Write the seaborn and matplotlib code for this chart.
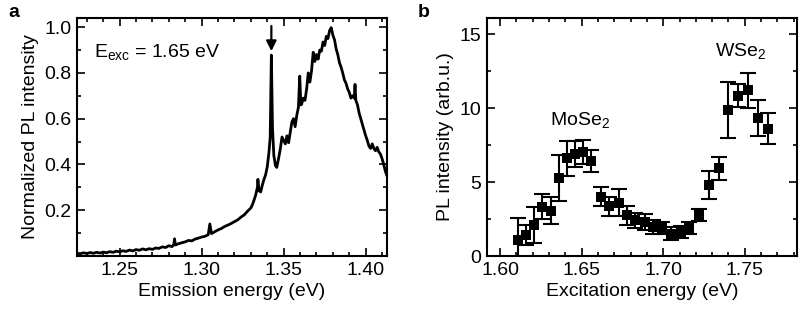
import numpy as np
import pandas as pd
import matplotlib
matplotlib.use("Agg")
import matplotlib.pyplot as plt
import seaborn as sns
from matplotlib.ticker import MultipleLocator

# ------------------------------------------------------------
# Panel a: PL spectrum at E_exc = 1.65 eV
# ------------------------------------------------------------
emission_energy = [
    1.2240, 1.2260, 1.2280, 1.2300, 1.2320, 1.2340, 1.2360, 1.2380, 1.2400, 1.2420,
    1.2440, 1.2460, 1.2480, 1.2500, 1.2520, 1.2540, 1.2560, 1.2580, 1.2600, 1.2620,
    1.2640, 1.2660, 1.2680, 1.2700, 1.2720, 1.2740, 1.2760, 1.2780, 1.2800, 1.2820,
    1.2830, 1.2835, 1.2840, 1.2860, 1.2880, 1.2900, 1.2920, 1.2940, 1.2960, 1.2980,
    1.3000, 1.3020, 1.3040, 1.3050, 1.3060, 1.3080, 1.3100, 1.3120, 1.3140, 1.3160,
    1.3180, 1.3200, 1.3220, 1.3240, 1.3260, 1.3280, 1.3300, 1.3310, 1.3320, 1.3330,
    1.3340, 1.3343, 1.3350, 1.3360, 1.3370, 1.3380, 1.3390, 1.3400, 1.3410, 1.3418,
    1.3425, 1.3432, 1.3440, 1.3450, 1.3458,
    1.3470, 1.3480, 1.3490, 1.3500, 1.3510, 1.3520, 1.3530, 1.3540, 1.3550, 1.3560,
    1.3570, 1.3580, 1.3590, 1.3598, 1.3605, 1.3610, 1.3620, 1.3630, 1.3640, 1.3650,
    1.3660, 1.3670, 1.3680, 1.3690, 1.3700, 1.3710, 1.3720, 1.3730, 1.3740, 1.3750,
    1.3760, 1.3770, 1.3780, 1.3790, 1.3800, 1.3810, 1.3820, 1.3830, 1.3840, 1.3850,
    1.3860, 1.3870, 1.3880, 1.3890, 1.3900, 1.3910, 1.3920, 1.3930, 1.3935, 1.3940,
    1.3950, 1.3960, 1.3970, 1.3980, 1.3990, 1.4000, 1.4010, 1.4020, 1.4030, 1.4040,
    1.4050, 1.4060, 1.4070, 1.4080, 1.4090, 1.4100, 1.4110, 1.4120, 1.4130,
]
pl_normalized = [
    0.012, 0.010, 0.014, 0.011, 0.015, 0.012, 0.016, 0.013, 0.017, 0.014,
    0.019, 0.016, 0.021, 0.018, 0.023, 0.020, 0.026, 0.022, 0.028, 0.025,
    0.031, 0.027, 0.032, 0.029, 0.035, 0.033, 0.040, 0.037, 0.045, 0.041,
    0.050, 0.075, 0.048, 0.054, 0.058, 0.062, 0.068, 0.066, 0.074, 0.078,
    0.083, 0.086, 0.093, 0.140, 0.098, 0.106, 0.114, 0.120, 0.129, 0.135,
    0.142, 0.150, 0.158, 0.170, 0.180, 0.196, 0.210, 0.225, 0.245, 0.268,
    0.300, 0.335, 0.285, 0.280, 0.310, 0.335, 0.355, 0.390, 0.450, 0.520,
    0.878, 0.560, 0.440, 0.395, 0.387,
    0.430, 0.470, 0.520, 0.505, 0.490, 0.525, 0.495, 0.540, 0.585, 0.600,
    0.565, 0.615, 0.650, 0.786, 0.660, 0.665, 0.690, 0.680, 0.730, 0.800,
    0.760, 0.810, 0.890, 0.850, 0.880, 0.860, 0.900, 0.895, 0.935, 0.920,
    0.960, 0.950, 0.985, 0.998, 0.965, 0.945, 0.905, 0.880, 0.845, 0.825,
    0.800, 0.770, 0.755, 0.730, 0.715, 0.690, 0.700, 0.690, 0.750, 0.680,
    0.660, 0.625, 0.600, 0.575, 0.550, 0.525, 0.505, 0.480, 0.470, 0.490,
    0.470, 0.460, 0.475, 0.455, 0.445, 0.425, 0.400, 0.370, 0.350,
]

# ------------------------------------------------------------
# Panel b: PL excitation intensity with error bars
# ------------------------------------------------------------
excitation_energy = [
    1.611, 1.616, 1.621, 1.626, 1.631, 1.636, 1.641, 1.646, 1.651, 1.656,
    1.662, 1.667, 1.673, 1.678, 1.683, 1.689, 1.694, 1.699, 1.705, 1.711,
    1.716, 1.722, 1.728, 1.734, 1.740, 1.746, 1.752, 1.758, 1.764,
]
pl_intensity = [
    1.10, 1.42, 2.10, 3.33, 3.06, 5.25, 6.60, 6.90, 7.05, 6.40,
    4.02, 3.35, 3.60, 2.75, 2.42, 2.30, 1.96, 1.87, 1.50, 1.62,
    1.90, 2.80, 4.80, 5.93, 9.90, 10.85, 11.20, 9.35, 8.60,
]
pl_error = [
    1.45, 0.65, 1.20, 0.85, 0.90, 1.55, 1.20, 0.85, 0.80, 0.75,
    0.62, 0.65, 0.90, 0.65, 0.50, 0.55, 0.45, 0.40, 0.45, 0.40,
    0.40, 0.40, 0.95, 0.77, 1.90, 0.80, 1.20, 1.20, 1.05,
]

spec = pd.DataFrame({"E": emission_energy, "I": pl_normalized})
ple = pd.DataFrame({"E": excitation_energy, "I": pl_intensity, "err": pl_error})

sns.set_style("ticks")
plt.rcParams["font.family"] = ["Liberation Sans", "DejaVu Sans"]
plt.rcParams["mathtext.fontset"] = "custom"
plt.rcParams["mathtext.rm"] = "Liberation Sans"
plt.rcParams["mathtext.it"] = "Liberation Sans:italic"
for key in ["text.color", "axes.labelcolor", "xtick.color", "ytick.color",
            "axes.edgecolor"]:
    plt.rcParams[key] = "black"

fig = plt.figure(figsize=(8.11, 3.15), dpi=100)
ax_a = fig.add_axes([0.0949, 0.1873, 0.3823, 0.7556])
ax_b = fig.add_axes([0.6005, 0.1873, 0.3822, 0.7556])

FS = 14


def style_axes(ax):
    for s in ax.spines.values():
        s.set_linewidth(1.5)
        s.set_color("black")
    ax.tick_params(which="both", direction="in", top=True, right=True,
                   width=1.2, colors="black", labelsize=FS, pad=4)
    ax.tick_params(which="major", length=5.5)
    ax.tick_params(which="minor", length=3)


# ---- panel a
sns.lineplot(data=spec, x="E", y="I", ax=ax_a, color="black", linewidth=2.0)
ax_a.set_xlim(1.224, 1.413)
ax_a.set_ylim(0, 1.04)
ax_a.set_xticks([1.25, 1.30, 1.35, 1.40])
ax_a.set_xticklabels(["1.25", "1.30", "1.35", "1.40"])
ax_a.set_yticks([0.2, 0.4, 0.6, 0.8, 1.0])
ax_a.set_yticklabels(["0.2", "0.4", "0.6", "0.8", "1.0"])
ax_a.xaxis.set_minor_locator(MultipleLocator(0.01))
ax_a.yaxis.set_minor_locator(MultipleLocator(0.1))
ax_a.set_xlabel("Emission energy (eV)", fontsize=FS, labelpad=3)
ax_a.set_ylabel("Normalized PL intensity", fontsize=FS, labelpad=4)
style_axes(ax_a)
ax_a.text(1.2345, 0.89, r"E$_{\mathrm{exc}}$ = 1.65 eV", fontsize=14,
          ha="left", va="center")
ax_a.annotate("", xy=(1.3425, 0.895), xytext=(1.3425, 1.005),
              arrowprops=dict(arrowstyle="-|>,head_length=0.6,head_width=0.3",
                              color="black", lw=1.6, shrinkA=0, shrinkB=0))

# ---- panel b
ax_b.errorbar(ple["E"], ple["I"], yerr=ple["err"], fmt="none", ecolor="black",
              elinewidth=1.5, capsize=5.8, capthick=1.5, zorder=2)
sns.scatterplot(data=ple, x="E", y="I", ax=ax_b, marker="s", s=50,
                color="black", edgecolor="black", linewidth=0, zorder=3)
ax_b.set_xlim(1.592, 1.782)
ax_b.set_ylim(0, 16.1)
ax_b.set_xticks([1.60, 1.65, 1.70, 1.75])
ax_b.set_xticklabels(["1.60", "1.65", "1.70", "1.75"])
ax_b.set_yticks([0, 5, 10, 15])
ax_b.xaxis.set_minor_locator(MultipleLocator(0.01))
ax_b.yaxis.set_minor_locator(MultipleLocator(2.5))
ax_b.set_xlabel("Excitation energy (eV)", fontsize=FS, labelpad=3)
ax_b.set_ylabel("PL intensity (arb.u.)", fontsize=FS, labelpad=4)
style_axes(ax_b)
ax_b.text(1.6305, 9.2, r"MoSe$_2$", fontsize=FS, ha="left", va="center")
ax_b.text(1.7315, 13.9, r"WSe$_2$", fontsize=FS, ha="left", va="center")

fig.text(0.010, 0.960, "a", fontsize=FS, fontweight="bold", ha="left", va="center")
fig.text(0.515, 0.960, "b", fontsize=FS, fontweight="bold", ha="left", va="center")

fig.savefig("out.png", dpi=100)
